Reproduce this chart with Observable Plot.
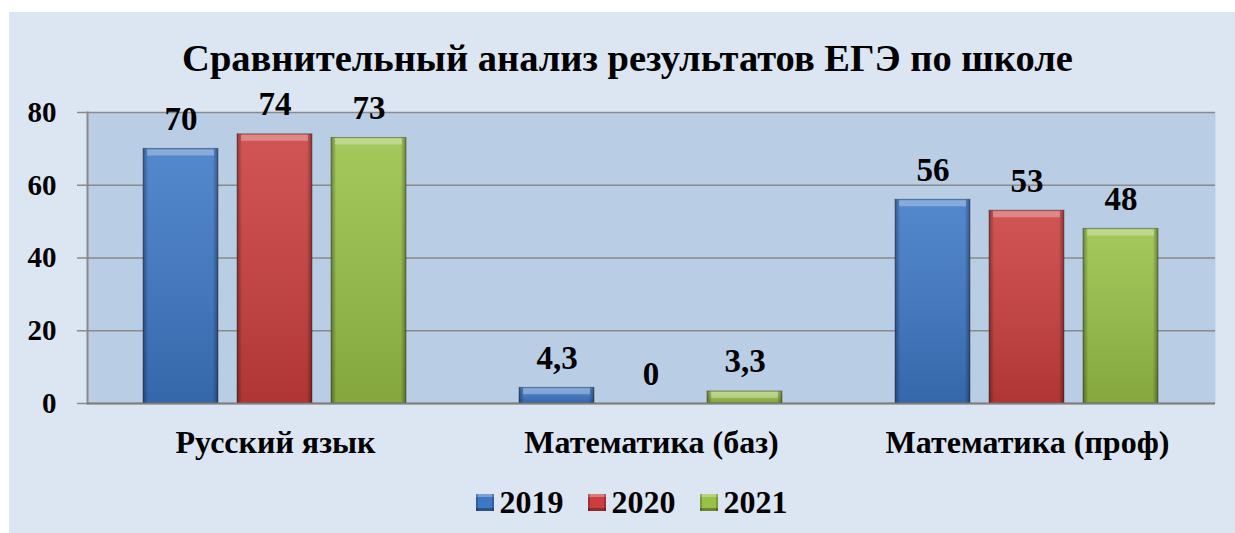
<!DOCTYPE html>
<html><head><meta charset="utf-8">
<script src="https://cdn.jsdelivr.net/npm/d3@7"></script>
<script src="https://cdn.jsdelivr.net/npm/@observablehq/plot@0.6"></script>
<style>
body{margin:0;background:#fff;font-family:'Liberation Serif',serif;}
#chart{position:absolute;left:9px;top:12px;width:1226px;height:521px;background:#dce6f2;overflow:hidden;}
#chart, #chart *{font-family:'Liberation Serif',serif !important;}
#title{position:absolute;left:0;top:0;width:1226px;box-sizing:border-box;padding-left:11px;text-align:center;font-size:38.5px;font-weight:bold;line-height:92px;color:#000;}
#plot{position:absolute;left:0;top:75px;}
#legend{position:absolute;left:0;top:470px;width:1226px;box-sizing:border-box;padding-left:19px;display:flex;justify-content:center;align-items:center;height:40px;font-size:32px;font-weight:bold;}
.item{display:flex;align-items:center;margin:0 12px;}
.sw{width:18px;height:17px;margin-right:6px;box-sizing:border-box;}
</style></head>
<body>
<svg width="0" height="0" style="position:absolute">
  <defs>
    <linearGradient id="sideShade" x1="0" y1="0" x2="1" y2="0">
      <stop offset="0" stop-color="#000" stop-opacity="0.35"/>
      <stop offset="0.07" stop-color="#000" stop-opacity="0"/>
      <stop offset="0.93" stop-color="#000" stop-opacity="0"/>
      <stop offset="1" stop-color="#000" stop-opacity="0.35"/>
    </linearGradient>
    <linearGradient id="vertShade" x1="0" y1="0" x2="0" y2="1">
      <stop offset="0" stop-color="#fff" stop-opacity="0.12"/>
      <stop offset="1" stop-color="#000" stop-opacity="0.14"/>
    </linearGradient>
  </defs>
</svg>
<div id="chart">
  <div id="title"></div>
  <div id="plot"></div>
  <div id="legend"></div>
</div>
<script>
const title = "Сравнительный анализ результатов ЕГЭ по школе";
const subjects = ["Русский язык", "Математика (баз)", "Математика (проф)"];
const years = ["2019", "2020", "2021"];
const values2019 = [70, 4.3, 56];
const values2020 = [74, 0, 53];
const values2021 = [73, 3.3, 48];
const yTicks = [0, 20, 40, 60, 80];
const colors = ["#3d78c6", "#cc3e3e", "#99c147"];

const series = [values2019, values2020, values2021];
const rows = [];
subjects.forEach((s, i) => years.forEach((y, j) => rows.push({subject: s, year: y, value: series[j][i]})));
const bars = rows.filter(d => d.value > 0);
const fmt = v => String(v).replace(".", ",");
const font = "Liberation Serif";

document.getElementById("title").textContent = title;

const chart = Plot.plot({
  width: 1226,
  height: 385,
  marginTop: 25,
  marginBottom: 69,
  marginLeft: 77,
  marginRight: 19,
  style: {background: "transparent", overflow: "visible", fontFamily: font},
  fx: {domain: subjects, padding: 0, axis: null, label: null},
  x: {domain: years, paddingInner: 0.2, paddingOuter: 0.6, axis: null},
  y: {domain: [0, 80], ticks: yTicks, axis: null},
  color: {domain: years, range: colors},
  marks: [
    Plot.frame({fill: "#b9cde5", stroke: null, facet: "super"}),
    Plot.ruleY(yTicks, {stroke: "#8a8a8a", strokeWidth: 1.5}),
    Plot.frame({anchor: "left", stroke: "#8a8a8a", strokeWidth: 2, facet: "super"}),
    Plot.axisY({ticks: yTicks, tickSize: 10, tickPadding: 21, stroke: "#8a8a8a", color: "#000", fill: "#000", fontSize: 29, fontWeight: "bold", fontFamily: font, label: null, strokeWidth: 1.5}),
    Plot.axisFx({anchor: "bottom", tickSize: 0, tickPadding: 27, fontSize: 32, fontWeight: "bold", fontFamily: font, label: null, color: "#000"}),
    Plot.barY(bars, {fx: "subject", x: "year", y: "value", fill: "year", stroke: "#000", strokeOpacity: 0.35, strokeWidth: 1}),
    Plot.barY(bars, {fx: "subject", x: "year", y: "value", fill: "url(#vertShade)"}),
    Plot.barY(bars, {fx: "subject", x: "year", y: "value", fill: "url(#sideShade)"}),
    Plot.tickY(bars, {fx: "subject", x: "year", y: "value", stroke: "#fff", strokeOpacity: 0.3, strokeWidth: 6, dy: 3.5, insetLeft: 4, insetRight: 4}),
    Plot.ruleY([0], {stroke: "#7f7f7f", strokeWidth: 2}),
    Plot.text(rows, {fx: "subject", x: "year", y: "value", text: d => fmt(d.value), lineAnchor: "bottom", dy: -19, fontSize: 33, fontWeight: "bold", fontFamily: font, fill: "#000"})
  ]
});
document.getElementById("plot").appendChild(chart);

const legend = document.getElementById("legend");
years.forEach((y, i) => {
  const item = document.createElement("div");
  item.className = "item";
  const sw = document.createElement("div");
  sw.className = "sw";
  sw.style.background = colors[i];
  sw.style.boxShadow = "inset 0 -3px 0 rgba(0,0,0,0.3), inset 2px 0 0 rgba(0,0,0,0.2), inset -2px 0 0 rgba(0,0,0,0.2), inset 0 3px 0 rgba(255,255,255,0.3)";
  const t = document.createElement("span");
  t.textContent = y;
  item.appendChild(sw);
  item.appendChild(t);
  legend.appendChild(item);
});
</script>
</body></html>
